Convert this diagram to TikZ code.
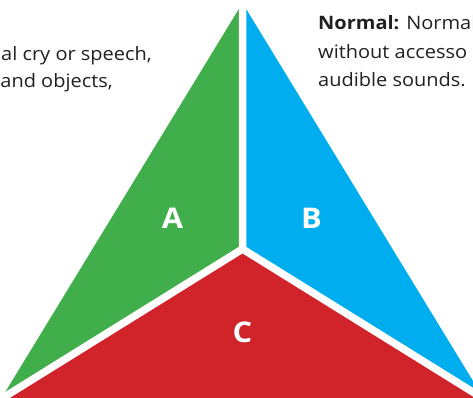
\documentclass[tikz,border=0pt]{standalone}
\usepackage{fontspec}
\setmainfont{Open Sans}[FakeStretch=1.08]
\definecolor{greenA}{RGB}{64,174,74}
\definecolor{blueB}{RGB}{0,174,239}
\definecolor{redC}{RGB}{209,35,42}
\definecolor{textgray}{RGB}{35,31,32}
\begin{document}
\begin{tikzpicture}[x=1pt, y=-1pt, line join=round, line cap=round,
    font=\fontsize{18.5}{27}\selectfont,
    part/.style={text=white, font=\fontsize{28.5}{28.5}\selectfont\bfseries},
    note/.style={text=textgray, inner sep=0pt}]
            \useasboundingbox (0,0) rectangle (473,398);
            \clip (0,0) rectangle (473,398);
            % corners and the middle point
            \coordinate (top) at (242.5,3);
            \coordinate (mid) at (242.5,249);
            \coordinate (left) at (1,399);
            \coordinate (right) at (484,399);
            \fill[greenA] (top) -- (mid) -- (left) -- cycle;
            \fill[blueB] (top) -- (mid) -- (right) -- cycle;
            \fill[redC] (left) -- (mid) -- (right) -- cycle;
            \draw[white, line width=7.5pt] (top) -- (mid) (mid) -- (left) (mid) -- (right);
            \node[part] (A) at (172.5,218.5) {A};
            \node[part] (B) at (311.5,218.5) {B};
            \node[part] (C) at (242.5,332.5) {C};
            % texts at the sides
            \node[note, anchor=base east] (left1) at (152,61) {al cry or speech,};
            \node[note, anchor=base east] (left2) at (113,88) {and objects,};
            \node[note, anchor=base west] (right1) at (318,30) {\textbf{Normal:} Normal};
            \node[note, anchor=base west] (right2) at (318,59) {without accesso};
            \node[note, anchor=base west] (right3) at (318,87) {audible sounds.};
\end{tikzpicture}
\end{document}
